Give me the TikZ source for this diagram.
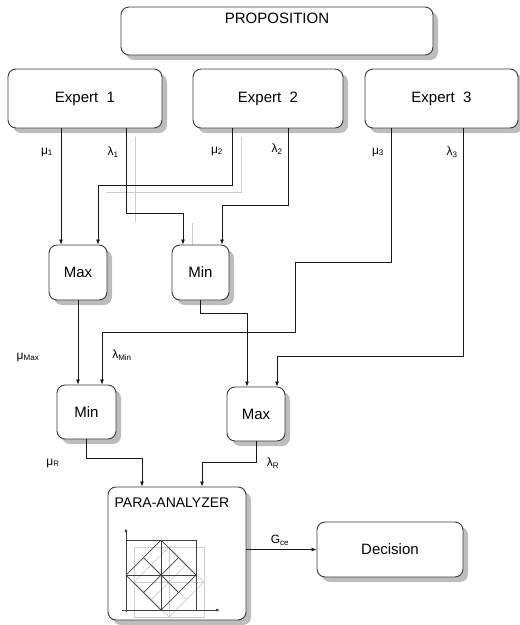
\documentclass[tikz,border=0pt]{standalone}
\usepackage{fontspec}
\setmainfont{Liberation Sans}
\usetikzlibrary{arrows.meta,shadows}
\newcommand{\lsub}[1]{\textsubscript{#1}}
\definecolor{boxline}{HTML}{3A3A3A}
\definecolor{shade}{HTML}{BDBDBD}
\definecolor{ghost}{HTML}{CFCFCF}
\begin{document}
\begin{tikzpicture}[x=1pt,y=-1pt,
  box/.style={draw=boxline,line width=0.9pt,rounded corners=8pt,fill=white,
    drop shadow={shadow xshift=5pt,shadow yshift=-5pt,fill=shade,opacity=1},
    inner sep=0pt,font=\fontsize{15}{16}\selectfont},
  arr/.style={line width=0.8pt,draw=black!90,-{Latex[length=5pt,width=4pt]}},
  lbl/.style={font=\fontsize{12}{12}\selectfont,inner sep=0pt},
  ghostline/.style={line width=0.8pt,draw=ghost},
  grid/.style={line width=0.7pt,draw=black!75},
  gridg/.style={line width=0.7pt,draw=ghost}]
\useasboundingbox (0,0) rectangle (520,625);

% ghost (shadow) connector lines
\draw[ghostline] (135,137) -- (135,222);
\draw[ghostline] (106,192) -- (241,192) -- (241,137);
\draw[ghostline] (192,223) -- (192,245);

% boxes
\node[box,minimum width=312,minimum height=48] (prop) at (277,31) {};
\node[font=\fontsize{15}{16}\selectfont,inner sep=0pt] (proptxt) at (277,18) {PROPOSITION};
\node[box,minimum width=154,minimum height=59] (e1) at (85,98.5) {Expert\ \ 1};
\node[box,minimum width=150,minimum height=59] (e2) at (268,98.5) {Expert\ \ 2};
\node[box,minimum width=153,minimum height=59] (e3) at (441.5,98.5) {Expert\ \ 3};
\node[box,minimum width=58,minimum height=55] (max1) at (78,272.5) {Max};
\node[box,minimum width=57,minimum height=55] (min1) at (200.5,272.5) {Min};
\node[box,minimum width=59,minimum height=54] (min2) at (86.5,412) {Min};
\node[box,minimum width=58,minimum height=54] (max2) at (256,414) {Max};
\node[box,minimum width=138,minimum height=133] (para) at (177,553.5) {};
\node[font=\fontsize{14}{15}\selectfont,inner sep=0pt] (paratxt) at (172,503) {PARA-ANALYZER};
\node[box,minimum width=146,minimum height=55] (dec) at (390,549.5) {Decision};

% para-analyzer lattice: gray copy
\begin{scope}[shift={(8,7)}]
\draw[gridg] (126,540) rectangle (196,610);
\draw[gridg] (126,575) -- (161,540) -- (196,575) -- (161,610) -- cycle;
\draw[gridg] (161,540) -- (161,610) (126,575) -- (196,575);
\draw[gridg] (143.5,557.5) -- (178.5,592.5) (178.5,557.5) -- (143.5,592.5);
\end{scope}
% para-analyzer lattice
\draw[grid] (126,540) -- (196,540) -- (196,610);
\draw[grid] (126,575) -- (161,540) -- (196,575) -- (161,610) -- cycle;
\draw[grid] (161,540) -- (161,610) (126,575) -- (196,575);
\draw[grid] (143.5,557.5) -- (178.5,592.5) (178.5,557.5) -- (143.5,592.5);
\draw[grid,-{Latex[length=4pt,width=3pt]}] (126,612) -- (126,528);
\draw[grid,-{Latex[length=4pt,width=3pt]}] (122,610) -- (220,610);
\fill[black!75] (161,575) circle (1.2);

% connectors
\draw[arr] ([xshift=-24pt]e1.south) -- ([xshift=-17pt]max1.north);
\draw[arr] ([xshift=-36pt]e2.south) -- ++(0,57) -| ([xshift=20pt]max1.north);
\draw[arr] ([xshift=41pt]e1.south) -- ++(0,85) -| ([xshift=-17.5pt]min1.north);
\draw[arr] ([xshift=20pt]e2.south) -- ++(0,77) -| ([xshift=21.5pt]min1.north);
\draw[arr] ([xshift=-50.5pt]e3.south) -- ++(0,134) -- ++(-96,0) -- ++(0,70) -| ([xshift=15.5pt]min2.north);
\draw[arr] ([xshift=21.5pt]e3.south) -- ++(0,228) -| ([xshift=21pt]max2.north);
\draw[arr] (max1.south) -- ([xshift=-8.5pt]min2.north);
\draw[arr] (min1.south) -- ++(0,13) -| ([xshift=-9pt]max2.north);
\draw[arr] (min2.south) -- ++(0,19) -| ([xshift=-35pt]para.north);
\draw[arr] (max2.south) -- ++(0,21) -| ([xshift=25pt]para.north);
\draw[arr] (para.east |- dec.west) -- (dec.west);

% labels
\node[lbl] (lm1) at (47,152) {μ\lsub{1}};
\node[lbl] (ll1) at (113,152) {λ\lsub{1}};
\node[lbl] (lm2) at (217,151) {μ\lsub{2}};
\node[lbl] (ll2) at (277,149) {λ\lsub{2}};
\node[lbl] (lm3) at (378,152) {μ\lsub{3}};
\node[lbl] (ll3) at (452,152) {λ\lsub{3}};
\node[lbl] (lmmax) at (28,357) {μ\lsub{Max}};
\node[lbl] (llmin) at (122,355) {λ\lsub{Min}};
\node[lbl] (lmr) at (53,463) {μ\lsub{R}};
\node[lbl] (llr) at (273,463) {λ\lsub{R}};
\node[lbl] (lg) at (280,540) {G\lsub{ce}};
\end{tikzpicture}
\end{document}
